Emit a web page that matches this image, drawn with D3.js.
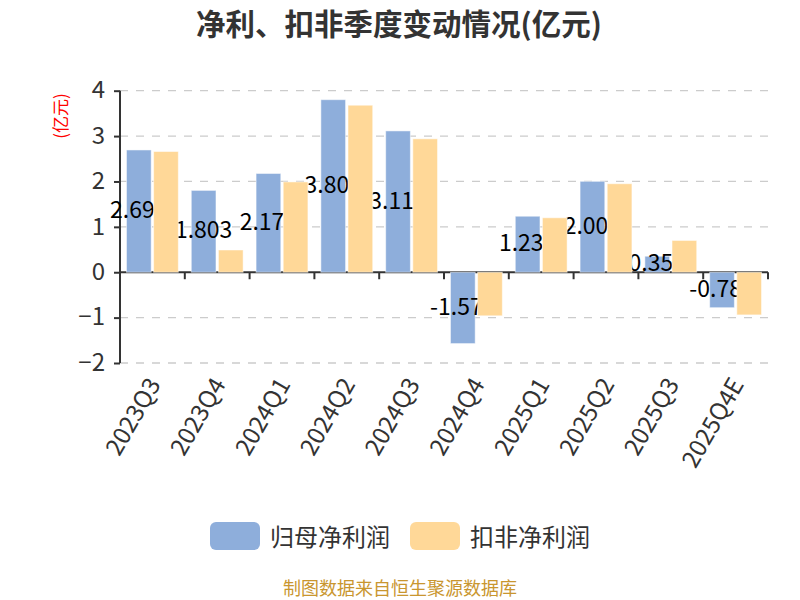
<!DOCTYPE html>
<html><head><meta charset="utf-8">
<script src="https://cdn.jsdelivr.net/npm/d3@7/dist/d3.min.js"></script>
<style>body{margin:0;background:#fff}svg{display:block}</style>
</head><body>
<svg id="c" width="800" height="600"></svg>
<script>
const categories = ["2023Q3","2023Q4","2024Q1","2024Q2","2024Q3","2024Q4","2025Q1","2025Q2","2025Q3","2025Q4E"];
const netProfit = [2.694, 1.803, 2.176, 3.802, 3.114, -1.572, 1.234, 2.003, 0.352, -0.781];
const deductedProfit = [2.66, 0.49, 1.99, 3.68, 2.94, -0.96, 1.20, 1.95, 0.70, -0.94];
const seriesNames = ["归母净利润", "扣非净利润"];
const yTicks = [-2, -1, 0, 1, 2, 3, 4];
const titleText = "净利、扣非季度变动情况(亿元)";
const yName = "(亿元)";
const footerText = "制图数据来自恒生聚源数据库";

(function () {
const colors = ["#8eaedb", "#ffd898"];
const font = "'Noto Sans CJK SC','Noto Sans',sans-serif";
const svg = d3.select("#c");
const pLeft = 120, pRight = 768, pTop = 90.7, pBottom = 363;

const x = d3.scaleBand().domain(categories).range([pLeft, pRight]).padding(0);
const bw = x.bandwidth();
const xi = d3.scaleBand().domain([0, 1]).range([bw * 0.1, bw * 0.9]).paddingInner(0.09);
const y = d3.scaleLinear().domain([-2, 4]).range([pBottom, pTop]);

// title
svg.append("text").attr("x", 399).attr("y", 22).attr("text-anchor", "middle")
  .attr("dominant-baseline", "central").attr("font-family", font).attr("font-size", 29.5)
  .attr("font-weight", "bold").attr("fill", "#333").text(titleText);

// gridlines
svg.append("g").selectAll("line").data(yTicks.filter(d => d !== 0)).join("line")
  .attr("x1", pLeft).attr("x2", pRight).attr("y1", d => y(d)).attr("y2", d => y(d))
  .attr("stroke", "#ccc").attr("stroke-width", 1.3).attr("stroke-dasharray", "8,8");

// y axis
const yAxis = d3.axisLeft(y).tickValues(yTicks).tickSize(6).tickPadding(9).tickFormat(d3.format("d"));
const gy = svg.append("g").attr("transform", `translate(${pLeft},0)`).call(yAxis);
gy.select(".domain").attr("stroke", "#333").attr("stroke-width", 2).attr("d", `M0,${y(4)}V${pBottom}`);
gy.selectAll(".tick line").attr("stroke", "#333").attr("stroke-width", 2);
gy.selectAll(".tick text").attr("font-family", font).attr("font-size", 24).attr("fill", "#333").attr("dy", "0.3em");

// y name
svg.append("text").attr("transform", "translate(59,116) rotate(-90)").attr("text-anchor", "middle")
  .attr("dominant-baseline", "central").attr("font-family", font).attr("font-size", 17)
  .attr("fill", "#ff0000").text(yName);

// x axis at zero
const gx = svg.append("g");
gx.append("line").attr("x1", pLeft).attr("x2", pRight).attr("y1", y(0)).attr("y2", y(0))
  .attr("stroke", "#333").attr("stroke-width", 2);
const boundaries = categories.map(c => x(c)).concat([pRight]).slice(1);
gx.selectAll("line.tk").data(boundaries).join("line").attr("class", "tk")
  .attr("x1", d => d).attr("x2", d => d).attr("y1", y(0)).attr("y2", y(0) + 7)
  .attr("stroke", "#333").attr("stroke-width", 2);

// x labels
svg.append("g").selectAll("text").data(categories).join("text")
  .attr("transform", d => `translate(${x(d) + bw / 2},${pBottom + 16}) rotate(-60)`)
  .attr("text-anchor", "end").attr("dominant-baseline", "central")
  .attr("font-family", font).attr("font-size", 24).attr("fill", "#333").text(d => d);

// bars
const barData = (vals, s) => vals.map((v, i) => ({cat: categories[i], v, s}));
function drawBars(vals, s) {
  svg.append("g").selectAll("rect").data(barData(vals, s)).join("rect")
    .attr("x", d => x(d.cat) + xi(s)).attr("width", xi.bandwidth())
    .attr("y", d => y(Math.max(0, d.v))).attr("height", d => Math.abs(y(d.v) - y(0)))
    .attr("fill", colors[s]).attr("stroke", "rgba(255,255,255,0.5)").attr("stroke-width", 1);
}
drawBars(netProfit, 0);
// labels for net profit (drawn beneath the second series)
svg.append("g").selectAll("text").data(barData(netProfit, 0)).join("text")
  .attr("x", d => x(d.cat) + xi(0) + xi.bandwidth() / 2)
  .attr("y", d => (y(d.v) + y(0)) / 2 - 3)
  .attr("text-anchor", "middle").attr("dominant-baseline", "central")
  .attr("font-family", font).attr("font-size", 23).attr("fill", "#000").text(d => d.v.toFixed(3));
drawBars(deductedProfit, 1);

// legend
const lg = svg.append("g");
const legendX = [210, 410];
seriesNames.forEach((n, i) => {
  lg.append("rect").attr("x", legendX[i]).attr("y", 522).attr("width", 50).attr("height", 28)
    .attr("rx", 6).attr("fill", colors[i]);
  lg.append("text").attr("x", legendX[i] + 60).attr("y", 535).attr("dominant-baseline", "central")
    .attr("font-family", font).attr("font-size", 24).attr("fill", "#333").text(n);
});

// footer
svg.append("text").attr("x", 400).attr("y", 587).attr("text-anchor", "middle")
  .attr("dominant-baseline", "central").attr("font-family", font).attr("font-size", 18)
  .attr("fill", "#c9962f").text(footerText);
})();
</script>
</body></html>
